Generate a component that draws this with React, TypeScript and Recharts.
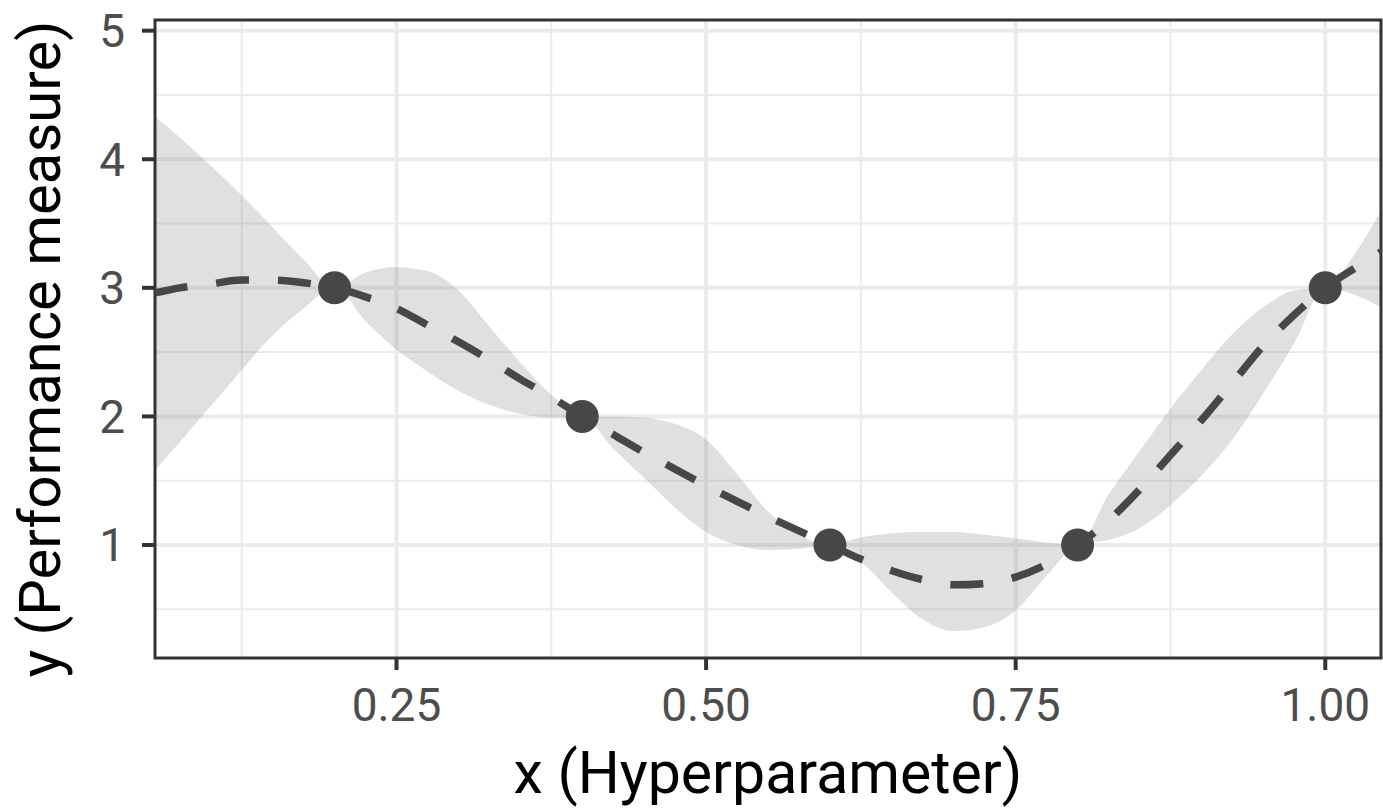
import React from 'react';
import {
    ComposedChart,
    Area,
    Line,
    Scatter,
    XAxis,
    YAxis,
    CartesianGrid,
    ReferenceArea,
    Label,
} from 'recharts';

// posterior mean + band
const curveX = [
    0.055, 0.075, 0.1, 0.125, 0.15, 0.175, 0.2, 0.225, 0.25, 0.275, 0.3, 0.325, 0.35, 0.375,
    0.4, 0.425, 0.45, 0.475, 0.5, 0.525, 0.55, 0.575, 0.6, 0.625, 0.65, 0.675, 0.7, 0.725,
    0.75, 0.775, 0.8, 0.825, 0.85, 0.875, 0.9, 0.925, 0.95, 0.975, 1.0, 1.025, 1.045,
];
const meanY = [
    2.96, 3.0, 3.03, 3.06, 3.06, 3.04, 3.0, 2.93, 2.84, 2.71, 2.58, 2.44, 2.29, 2.15,
    2.0, 1.86, 1.72, 1.59, 1.46, 1.34, 1.22, 1.11, 1.0, 0.89, 0.8, 0.73, 0.69, 0.7,
    0.75, 0.85, 1.0, 1.19, 1.43, 1.7, 1.97, 2.26, 2.55, 2.79, 3.0, 3.16, 3.28,
];
const lowerY = [
    1.58, 1.8, 2.08, 2.36, 2.63, 2.84, 3.0, 2.74, 2.52, 2.35, 2.2, 2.09, 2.02, 1.99,
    2.0, 1.75, 1.52, 1.29, 1.1, 1.0, 0.96, 0.97, 1.0, 0.87, 0.63, 0.42, 0.33, 0.36,
    0.49, 0.76, 1.0, 1.04, 1.13, 1.31, 1.54, 1.82, 2.18, 2.57, 3.0, 2.94, 2.85,
];
const upperY = [
    4.33, 4.17, 3.95, 3.72, 3.47, 3.22, 3.0, 3.12, 3.16, 3.13, 2.98, 2.7, 2.42, 2.17,
    2.0, 2.0, 1.99, 1.94, 1.82, 1.55, 1.26, 1.08, 1.0, 1.06, 1.09, 1.1, 1.1, 1.08,
    1.05, 1.02, 1.0, 1.39, 1.73, 2.06, 2.36, 2.64, 2.85, 2.98, 3.0, 3.28, 3.6,
];

// observed points
const obsX = [0.2, 0.4, 0.6, 0.8, 1.0];
const obsY = [3, 2, 1, 1, 3];

const xTicks = [0.25, 0.5, 0.75, 1.0];
const xMinor = [0.125, 0.375, 0.625, 0.875];
const yTicks = [1, 2, 3, 4, 5];
const yMinor = [0.5, 1.5, 2.5, 3.5, 4.5];
const xDomain: [number, number] = [0.055, 1.045];
const yDomain: [number, number] = [0.121, 5.083];

const FONT = 'Roboto, "Noto Sans", sans-serif';

const curveData = curveX.map((x, i) => ({
    x,
    mean: meanY[i],
    band: [lowerY[i], upperY[i]],
}));
const pointData = obsX.map((x, i) => ({ x, y: obsY[i] }));

const YTitle = (props: any) => {
    const vb = props.viewBox || { x: 0, y: 20, width: 155, height: 638 };
    const bx = vb.x + 60;
    const cy = vb.y + vb.height / 2 + 10;
    return (
        <text
            x={bx}
            y={cy}
            transform={`rotate(-90, ${bx}, ${cy})`}
            textAnchor="middle"
            fontFamily={FONT}
            fontSize={58}
            fill="#000000"
        >
            y (Performance measure)
        </text>
    );
};

const Dot = (props: any) => <circle cx={props.cx} cy={props.cy} r={16.5} fill="#474747" />;

export default function App() {
    return (
        <div style={{ position: 'absolute', left: 0, top: 0, background: '#fff' }}>
            <ComposedChart
                width={1383}
                height={809}
                data={curveData}
                margin={{ top: 20, right: 2, left: 0, bottom: 0 }}
            >
                <CartesianGrid
                    stroke="#EBEBEB"
                    strokeWidth={2}
                    verticalValues={xMinor}
                    horizontalValues={yMinor}
                />
                <CartesianGrid
                    stroke="#EBEBEB"
                    strokeWidth={4}
                    verticalValues={xTicks}
                    horizontalValues={yTicks}
                />
                <XAxis
                    dataKey="x"
                    type="number"
                    domain={xDomain}
                    ticks={xTicks}
                    allowDataOverflow
                    tickFormatter={(v: number) => v.toFixed(2)}
                    height={151}
                    axisLine={false}
                    tickSize={12}
                    tickMargin={18}
                    tickLine={{ stroke: '#333333', strokeWidth: 4 }}
                    tick={{ fill: '#4D4D4D', fontSize: 46, fontFamily: FONT }}
                >
                    <Label
                        value="x (Hyperparameter)"
                        position="insideBottom"
                        offset={16}
                        fill="#000000"
                        fontSize={59}
                        fontFamily={FONT}
                    />
                </XAxis>
                <YAxis
                    type="number"
                    domain={yDomain}
                    ticks={yTicks}
                    allowDataOverflow
                    width={155}
                    axisLine={false}
                    tickSize={13}
                    tickMargin={17}
                    tickLine={{ stroke: '#333333', strokeWidth: 4 }}
                    tick={{ fill: '#4D4D4D', fontSize: 46, fontFamily: FONT }}
                >
                    <Label content={YTitle} />
                </YAxis>
                <Area
                    type="monotone"
                    dataKey="band"
                    stroke="none"
                    fill="#8c8a90"
                    fillOpacity={0.27}
                    isAnimationActive={false}
                    activeDot={false}
                />
                <Line
                    type="monotone"
                    dataKey="mean"
                    stroke="#474747"
                    strokeWidth={7.5}
                    strokeDasharray="33 29"
                    dot={false}
                    activeDot={false}
                    isAnimationActive={false}
                />
                <Scatter
                    data={pointData}
                    dataKey="y"
                    shape={Dot}
                    isAnimationActive={false}
                />
                <ReferenceArea
                    x1={xDomain[0]}
                    x2={xDomain[1]}
                    y1={yDomain[0]}
                    y2={yDomain[1]}
                    fill="none"
                    stroke="#333333"
                    strokeWidth={3}
                />
            </ComposedChart>
        </div>
    );
}
